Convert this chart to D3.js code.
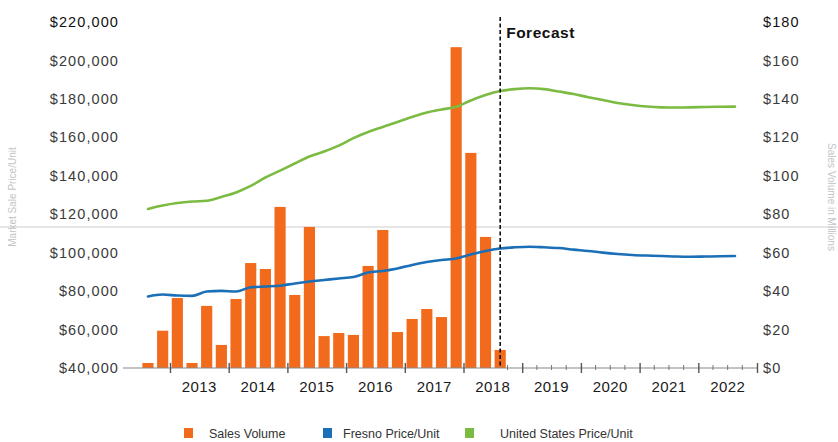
<!DOCTYPE html>
<html>
<head>
<meta charset="utf-8">
<script src="https://cdn.jsdelivr.net/npm/d3@7"></script>
<style>
  html, body { margin: 0; padding: 0; background: #fff; }
  svg { display: block; font-family: "Liberation Sans", Arial, sans-serif; }
</style>
</head>
<body>
<svg id="chart" width="838" height="442"></svg>
<script>
// ---------------- DATA ----------------
// Quarterly sales volume (millions), Q3 2012 .. Q3 2018
const barQuarters = ["2012 Q3","2012 Q4","2013 Q1","2013 Q2","2013 Q3","2013 Q4",
  "2014 Q1","2014 Q2","2014 Q3","2014 Q4","2015 Q1","2015 Q2","2015 Q3","2015 Q4",
  "2016 Q1","2016 Q2","2016 Q3","2016 Q4","2017 Q1","2017 Q2","2017 Q3","2017 Q4",
  "2018 Q1","2018 Q2","2018 Q3"];
const salesVolume = [2.6, 19.4, 36.4, 2.6, 32.3, 12, 35.9, 54.6, 51.5, 83.8, 38, 73.4,
  16.6, 18.2, 17.2, 53.1, 71.8, 18.7, 25.5, 30.7, 26.5, 166.9, 111.9, 68.2, 9.4];

// Price per unit lines, quarterly Q3 2012 .. Q3 2022
const lineQuarters = ["2012 Q3","2012 Q4",
  "2013 Q1","2013 Q2","2013 Q3","2013 Q4","2014 Q1","2014 Q2","2014 Q3","2014 Q4",
  "2015 Q1","2015 Q2","2015 Q3","2015 Q4","2016 Q1","2016 Q2","2016 Q3","2016 Q4",
  "2017 Q1","2017 Q2","2017 Q3","2017 Q4","2018 Q1","2018 Q2","2018 Q3","2018 Q4",
  "2019 Q1","2019 Q2","2019 Q3","2019 Q4","2020 Q1","2020 Q2","2020 Q3","2020 Q4",
  "2021 Q1","2021 Q2","2021 Q3","2021 Q4","2022 Q1","2022 Q2","2022 Q3"];
const fresnoPrice = [77200, 78200, 77700, 77500, 79800, 80100, 79800, 82000, 82400, 82800,
  84000, 85000, 85800, 86600, 87300, 89700, 90500, 91800, 93600, 95100, 96200, 97000,
  99000, 100900, 102200, 102800, 103100, 102800, 102400, 101600, 100900, 100000, 99300,
  98800, 98500, 98300, 98000, 97900, 98000, 98100, 98300];
const usPrice = [122700, 124500, 125800, 126600, 127000, 129000, 131300, 134700, 139100,
  142700, 146400, 150000, 152600, 155700, 159600, 162800, 165400, 168000, 170600, 172900,
  174500, 175900, 179200, 182000, 184100, 185100, 185500, 185100, 183800, 182500, 180900,
  179400, 177900, 176800, 176000, 175600, 175500, 175600, 175800, 175900, 176000];

const years = [2013, 2014, 2015, 2016, 2017, 2018, 2019, 2020, 2021, 2022];
const leftTicks = [40000, 60000, 80000, 100000, 120000, 140000, 160000, 180000, 200000, 220000];
const rightTicks = [0, 20, 40, 60, 80, 100, 120, 140, 160, 180];
const forecastStart = "2018 Q3";
const seriesNames = ["Sales Volume", "Fresno Price/Unit", "United States Price/Unit"];
const seriesColors = ["#f26a1b", "#1a6fb6", "#7cbb42"];

// ---------------- HELPERS ----------------
function qStart(q) {           // "2014 Q2" -> 2014.25
  const [y, qq] = q.split(" Q");
  return +y + (+qq - 1) / 4;
}
const qMid = q => qStart(q) + 0.125;

// ---------------- SCALES ----------------
const svg = d3.select("#chart");
const x = d3.scaleLinear().domain([2013, 2023]).range([170, 757]);
const xMin = x.invert(123);
const yL = d3.scaleLinear().domain([40000, 220000]).range([368, 22]);
const yR = d3.scaleLinear().domain([0, 180]).range([368, 22]);

// scan artefact: faint horizontal fold line
svg.append("line")
  .attr("x1", 0).attr("x2", 838).attr("y1", 227).attr("y2", 227)
  .attr("stroke", "#e6e6e6").attr("stroke-width", 2);

// ---------------- BARS ----------------
const bw = x(0.25) - x(0);
svg.append("g").selectAll("rect")
  .data(barQuarters.map((q, i) => ({ q, v: salesVolume[i] })))
  .join("rect")
  .attr("x", d => x(qStart(d.q)) + bw * 0.12)
  .attr("width", bw * 0.76)
  .attr("y", d => yR(d.v))
  .attr("height", d => yR(0) - yR(d.v))
  .attr("fill", seriesColors[0]);

// ---------------- X AXIS ----------------
const axisG = svg.append("g");
axisG.append("line")
  .attr("x1", x(xMin)).attr("x2", x(2023))
  .attr("y1", yR(0)).attr("y2", yR(0))
  .attr("stroke", "#888").attr("stroke-width", 1.2);

const xAxis = d3.axisBottom(x)
  .tickValues(years.concat([2023]))
  .tickFormat("")
  .tickSizeInner(5).tickSizeOuter(0);
const gx = svg.append("g").attr("transform", `translate(0,${yR(0)})`).call(xAxis);
gx.select(".domain").remove();
gx.selectAll(".tick line").attr("y1", -5).attr("stroke", "#555").attr("stroke-width", 1.4);

// minor quarterly ticks in the forecast range
const minor = d3.range(qStart(forecastStart) * 4 + 1, 2023 * 4).map(v => v / 4).filter(v => v % 1 !== 0);
svg.append("g").selectAll("line").data(minor).join("line")
  .attr("x1", d => x(d)).attr("x2", d => x(d))
  .attr("y1", yR(0) - 3).attr("y2", yR(0) + 2)
  .attr("stroke", "#777").attr("stroke-width", 1);

svg.append("g").selectAll("text").data(years).join("text")
  .attr("x", d => x(d + 0.5)).attr("y", yR(0) + 24)
  .attr("text-anchor", "middle")
  .attr("font-size", 15).attr("letter-spacing", 0.4)
  .attr("fill", "#1a1a1a")
  .text(d => d);

// ---------------- LEFT / RIGHT AXES ----------------
const fmtL = v => "$" + d3.format(",")(v);
const gl = svg.append("g").attr("transform", "translate(121,0)")
  .call(d3.axisLeft(yL).tickValues(leftTicks).tickFormat(fmtL).tickSize(0).tickPadding(2));
gl.select(".domain").remove();
gl.selectAll("text").attr("font-size", 14.5).attr("letter-spacing", 1.1)
  .attr("fill", d => d === 220000 ? "#111" : "#3a3a3a")
  .attr("font-family", "Liberation Sans, Arial, sans-serif");

const gr = svg.append("g").attr("transform", "translate(761,0)")
  .call(d3.axisRight(yR).tickValues(rightTicks).tickFormat(v => "$" + v).tickSize(0).tickPadding(2));
gr.select(".domain").remove();
gr.selectAll("text").attr("font-size", 14.5).attr("letter-spacing", 1.1)
  .attr("fill", d => d === 180 ? "#111" : "#3a3a3a")
  .attr("font-family", "Liberation Sans, Arial, sans-serif");

// axis titles
svg.append("text")
  .attr("transform", "translate(16,197) rotate(-90)")
  .attr("text-anchor", "middle").attr("font-size", 10)
  .attr("fill", "#c4c4c4").text("Market Sale Price/Unit");
svg.append("text")
  .attr("transform", "translate(828,197) rotate(90)")
  .attr("text-anchor", "middle").attr("font-size", 10)
  .attr("fill", "#c4c4c4").text("Sales Volume in Millions");

// ---------------- LINES ----------------
const lineGen = d3.line().x(d => x(d.t)).y(d => yL(d.v)).curve(d3.curveMonotoneX);
[[fresnoPrice, seriesColors[1]], [usPrice, seriesColors[2]]].forEach(([arr, col]) => {
  const pts = lineQuarters.map((q, i) => ({ t: qMid(q), v: arr[i] }));
  svg.append("path").datum(pts)
    .attr("d", lineGen)
    .attr("fill", "none").attr("stroke", col)
    .attr("stroke-width", 2.6).attr("stroke-linejoin", "round").attr("stroke-linecap", "round");
});

// ---------------- FORECAST MARKER ----------------
const fx = x(qMid(forecastStart));
svg.append("line")
  .attr("x1", fx).attr("x2", fx).attr("y1", 17).attr("y2", yR(0))
  .attr("stroke", "#111").attr("stroke-width", 1.6).attr("stroke-dasharray", "4,2.5");
svg.append("text")
  .attr("x", fx + 6).attr("y", 38)
  .attr("font-size", 15.5).attr("font-weight", "bold").attr("letter-spacing", 0.5)
  .attr("fill", "#111").text("Forecast");

// ---------------- LEGEND ----------------
const legendX = [184, 323, 465];
const textX = [209, 343, 500];
const lg = svg.append("g");
seriesNames.forEach((name, i) => {
  lg.append("rect").attr("x", legendX[i]).attr("y", 428).attr("width", 9).attr("height", 10)
    .attr("fill", seriesColors[i]);
  lg.append("text").attr("x", textX[i]).attr("y", 437.5)
    .attr("font-size", 12.5).attr("fill", "#333").text(name);
});
</script>
</body>
</html>
